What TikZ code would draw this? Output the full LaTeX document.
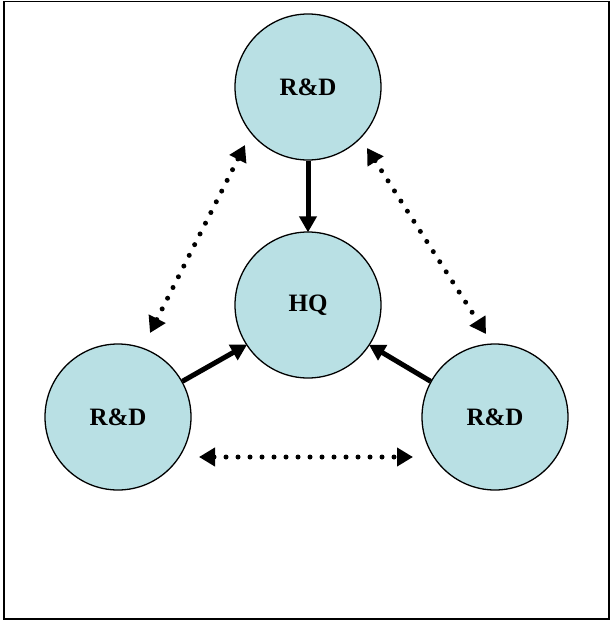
\documentclass[tikz,border=0pt]{standalone}
\usepackage{fontspec}
\setmainfont{Liberation Serif}
\usetikzlibrary{arrows.meta}
\definecolor{circfill}{RGB}{185,224,228}
\begin{document}
\begin{tikzpicture}[x=1pt,y=-1pt,
  unit/.style={circle,draw=black,line width=1.3pt,fill=circfill,minimum size=146pt,inner sep=0pt,font=\fontsize{25}{28}\selectfont\bfseries},
  solidarrow/.style={line width=5pt,-{Triangle[length=16pt,width=17pt]},shorten >=-1pt},
  dotarrow/.style={line width=5pt,line cap=round,dash pattern=on 0pt off 12pt,{Triangle[length=16pt,width=18pt]}-{Triangle[length=16pt,width=18pt]}}]
\useasboundingbox (0,0) rectangle (611,621);
\draw[line width=1.5pt] (4,1.5) rectangle (609,619);
\node[unit] (top) at (308,87) {R\&D};
\node[unit] (hq) at (308,305) {HQ};
\node[unit] (left) at (118,417) {R\&D};
\node[unit] (right) at (495,417) {R\&D};
\coordinate (tl1) at (150,333);
\coordinate (tl2) at (245,145);
\coordinate (tr1) at (367,148);
\coordinate (tr2) at (486,334);
\coordinate (b1) at (199,457);
\coordinate (b2) at (413,457);
\draw[solidarrow] (top) -- (hq);
\draw[solidarrow] (left.29) -- (hq.213);
\draw[solidarrow] (right.151) -- (hq.327);
\draw[dotarrow] (tl1) -- (tl2);
\draw[dotarrow] (tr1) -- (tr2);
\draw[dotarrow] (b1) -- (b2);
\end{tikzpicture}
\end{document}
